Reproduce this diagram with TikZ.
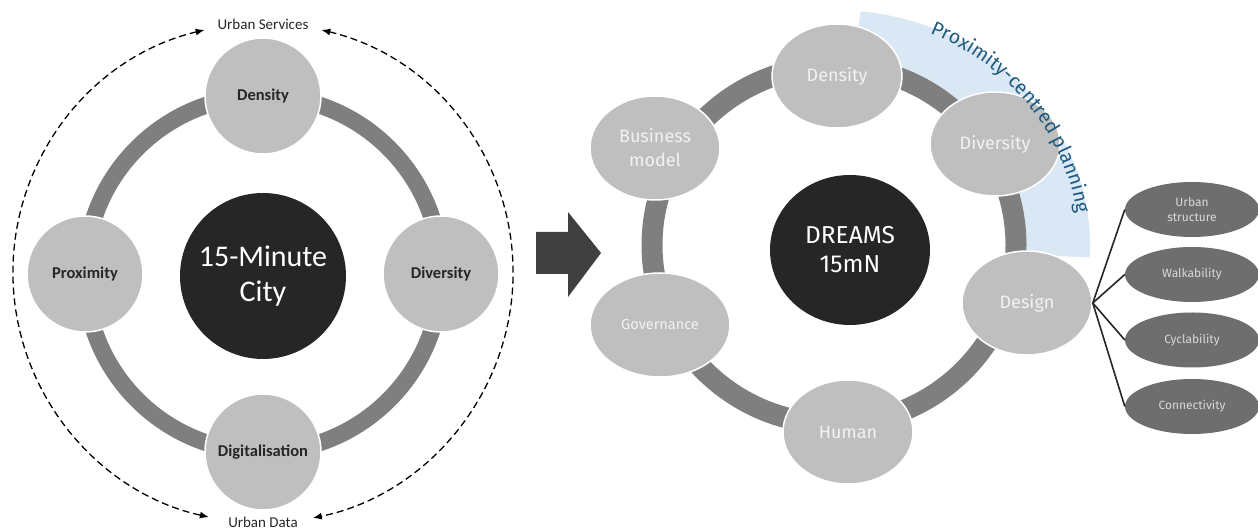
\documentclass[tikz,border=0pt]{standalone}
\usepackage{fontspec}
\setmainfont{Carlito}
\newfontfamily\firafont{Fira Sans}
\usetikzlibrary{arrows.meta,positioning,calc,shapes.geometric,decorations.text}

\definecolor{circgray}{HTML}{BFBFBF}
\definecolor{ringgray}{HTML}{7F7F7F}
\definecolor{coregray}{HTML}{262626}
\definecolor{branchgray}{HTML}{6E6E6E}
\definecolor{arrowgray}{HTML}{404040}
\definecolor{bandblue}{HTML}{DAE7F4}
\definecolor{arctext}{HTML}{1F5A7E}
\definecolor{labtext}{HTML}{262626}

\newcommand{\arcfont}{\firafont\fontsize{19.5}{20}\selectfont}

\begin{document}
\begin{tikzpicture}[
  x=1pt,y=1pt,
  lnode/.style={circle,fill=circgray,draw=white,line width=1.5pt,minimum size=116pt,inner sep=0pt,
    font=\fontsize{16.5}{19}\selectfont\bfseries,text=labtext},
  core/.style={fill=coregray,inner sep=0pt,text=white,align=center},
  rnode/.style={ellipse,fill=circgray,draw=white,line width=1.5pt,minimum width=130pt,minimum height=104pt,
    inner sep=0pt,text=white!95!black,align=center,font=\firafont\fontsize{18}{24}\selectfont},
  bnode/.style={ellipse,fill=branchgray,minimum width=134pt,minimum height=55pt,inner sep=0pt,
    text=white!85!black,align=center,font=\firafont\fontsize{12}{15}\selectfont},
  ring/.style={draw=ringgray},
  dline/.style={dash pattern=on 7pt off 4pt,line width=1.3pt,
    {Latex[length=9pt,width=7pt]}-{Latex[length=9pt,width=7pt]}},
  lab/.style={font=\fontsize{15}{18}\selectfont,text=labtext},
  branch/.style={draw=coregray,line width=1.6pt}
]

\useasboundingbox (0,0) rectangle (1258,532);

% ---------------- left: 15-minute city ----------------
\coordinate (lc) at (263,258);
\draw[ring,line width=17pt] (lc) circle[radius=178];

\node[core,circle,minimum size=166pt,font=\fontsize{30}{35}\selectfont] (city) at (263,256) {15-Minute\\City};
\node[lnode] (dens1) at (263,436) {Density};
\node[lnode] (div1) at (441,258) {Diversity};
\node[lnode] (dig1) at (263,80) {Digitalisation};
\node[lnode] (prox1) at (85,258) {Proximity};

% dashed loop with the two outer labels
\coordinate (dc) at (263,259);
\node[lab] (usv) at (263,508) {Urban Services};
\node[lab] (udat) at (263,10) {Urban Data};
\coordinate (usv-l) at ($(dc)+(103.5:250)$);
\coordinate (usv-r) at ($(dc)+(76.5:250)$);
\draw[dline] (usv-l) arc[start angle=103.5,end angle=257.5,radius=250];
\draw[dline] (usv-r) arc[start angle=76.5,end angle=-78.5,radius=250];

% ---------------- block arrow ----------------
\fill[arrowgray] (536,300) -- (568,300) -- (568,320) -- (601,279)
  -- (568,235) -- (568,258) -- (536,258) -- cycle;

% ---------------- right: DREAMS 15mN ----------------
\coordinate (rc) at (834,287);

% proximity band behind the ring
\fill[bandblue] ($(rc)+(84:256 and 235)$) arc[start angle=84,end angle=-3,x radius=256,y radius=235]
  -- ($(rc)+(-3:190 and 187)$) arc[start angle=-3,end angle=84,x radius=190,y radius=187] -- cycle;

\draw[ring,line width=21pt] (rc) ellipse[x radius=182,y radius=179];

\node[core,ellipse,minimum width=160pt,minimum height=150pt,font=\firafont\fontsize{24.5}{29}\selectfont]
  (dreams) at (850,282) {DREAMS\\15mN};
\node[rnode] (dens2) at (837,456) {Density};
\node[rnode] (div2) at (995,388) {Diversity};
\node[rnode] (des2) at (1027,229) {Design};
\node[rnode] (hum2) at (848,100) {Human};
\node[rnode,minimum width=140pt,font=\firafont\fontsize{14.5}{18}\selectfont] (gov2) at (660,207) {Governance};
\node[rnode] (bus2) at (655,384) {Business\\model};

% arc label
\path[decorate,decoration={text along path,text color=arctext,text align=left,
    text={|\arcfont|Proximity-centred planning}}]
  ($(rc)+(67:245 and 230)$) arc[start angle=67,end angle=-20,x radius=245,y radius=230];

% design branches
\node[bnode] (ustr) at (1192,322.5) {Urban\\structure};
\node[bnode] (walk) at (1192,257.5) {Walkability};
\node[bnode] (cycl) at (1192,192) {Cyclability};
\node[bnode] (conn) at (1192,125.5) {Connectivity};

\draw[branch] (des2.east) -- (ustr.west);
\draw[branch] (des2.east) -- (walk.west);
\draw[branch] (des2.east) -- (cycl.west);
\draw[branch] (des2.east) -- (conn.west);

\end{tikzpicture}
\end{document}
